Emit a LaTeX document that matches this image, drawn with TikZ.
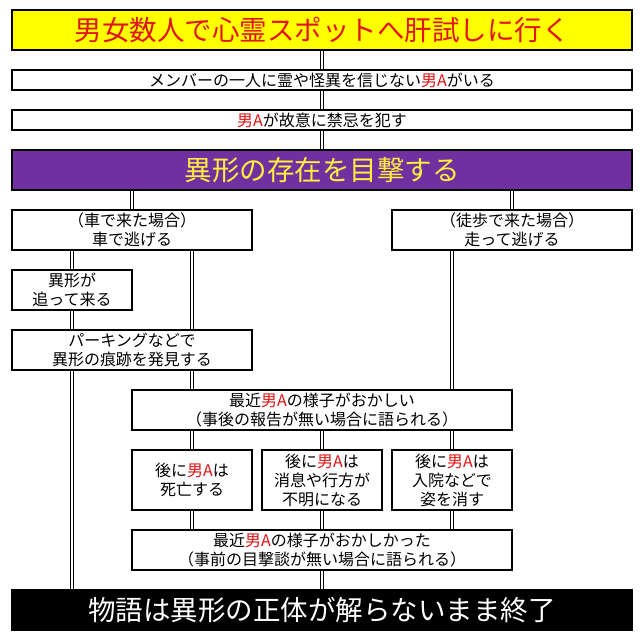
\documentclass[tikz,border=0pt]{standalone}
\usepackage{fontspec}
\usepackage{xcolor}
\usepackage{tikz}
\usetikzlibrary{positioning, calc, backgrounds}
\newfontfamily\jpfont{Noto Sans CJK JP}
\definecolor{namered}{RGB}{225, 20, 20}
\definecolor{startfill}{RGB}{255, 255, 0}
\definecolor{witnessfill}{RGB}{112, 48, 160}
\definecolor{witnesstext}{RGB}{255, 240, 60}
\newcommand{\otokoA}{\textcolor{namered}{男A}}
\tikzset{
  font=\jpfont\fontsize{16}{19}\selectfont,
  node distance=20pt and 10pt,
  baseblock/.style={
    rectangle, draw=black, line width=2pt, fill=white,
    outer sep=0pt, inner sep=0pt, align=center,
    minimum height=40pt
  },
  bigblock/.style={baseblock, minimum width=620pt, font=\jpfont\fontsize{27.5}{30}\selectfont},
  startblock/.style={bigblock, fill=startfill, text=namered},
  witnessblock/.style={bigblock, fill=witnessfill, text=witnesstext},
  endblock/.style={bigblock, fill=black, text=white},
  thinblock/.style={baseblock, minimum width=620pt, minimum height=20pt},
  wideblock/.style={baseblock, minimum width=240pt},
  centerblock/.style={baseblock, minimum width=380pt},
  smallblock/.style={baseblock, minimum width=120pt},
  fateblock/.style={baseblock, minimum width=120pt, minimum height=60pt},
  linkline/.style={draw=black, double=white, double distance=2pt, line width=0.9pt}
}
\begin{document}
\begin{tikzpicture}[x=1pt, y=1pt]
  \useasboundingbox (0,0) rectangle (640,-640);

  % Start
  \node[startblock] (start) at (322,-30) {男女数人で心霊スポットへ肝試しに行く};
  \node[thinblock, below=of start] (skeptic) {メンバーの一人に霊や怪異を信じない\otokoA がいる};
  \node[thinblock, below=of skeptic] (taboo) {\otokoA が故意に禁忌を犯す};

  % Encounter
  \node[witnessblock, below=of taboo] (witness) {異形の存在を目撃する};

  % Escape routes
  \node[wideblock, below=of witness.south west, anchor=north west] (bycar) {（車で来た場合）\\車で逃げる};
  \node[wideblock, below=of witness.south east, anchor=north east] (onfoot) {（徒歩で来た場合）\\走って逃げる};
  \node[smallblock, below=of bycar.south west, anchor=north west] (chase) {異形が\\追って来る};
  \node[wideblock, below=of chase.south west, anchor=north west] (traces) {パーキングなどで\\異形の痕跡を発見する};

  % Aftermath
  \node[centerblock, below=of traces.south, anchor=north west] (strange) {最近\otokoA の様子がおかしい\\（事後の報告が無い場合に語られる）};
  \node[fateblock, below=of strange.south west, anchor=north west] (dead) {後に\otokoA は\\死亡する};
  \node[fateblock, right=of dead] (missing) {後に\otokoA は\\消息や行方が\\不明になる};
  \node[fateblock, right=of missing] (hospital) {後に\otokoA は\\入院などで\\姿を消す};
  \node[centerblock, below=of dead.south west, anchor=north west] (before) {最近\otokoA の様子がおかしかった\\（事前の目撃談が無い場合に語られる）};

  % End
  \node[endblock, below=of before] (ending) {物語は異形の正体が解らないまま終了};

  % Connections
  \begin{scope}[on background layer]
    \draw[linkline] (start) -- (skeptic);
    \draw[linkline] (skeptic) -- (taboo);
    \draw[linkline] (taboo) -- (witness);

    \draw[linkline] (bycar.north) -- (bycar.north |- witness.south);
    \draw[linkline] (onfoot.north) -- (onfoot.north |- witness.south);

    \draw[linkline] (chase.north) -- (chase.north |- bycar.south);
    \draw[linkline] (chase.south) -- (chase.south |- traces.north);
    \draw[linkline] (dead.north |- bycar.south) -- (dead.north |- traces.north);
    \draw[linkline] (chase.south |- traces.south) -- (chase.south |- ending.north);
    \draw[linkline] (dead.north |- traces.south) -- (dead.north |- strange.north);

    \draw[linkline] (hospital.north |- onfoot.south) -- (hospital.north |- strange.north);
    \draw[linkline] ($(onfoot.south)!0.5!(onfoot.south east)$) -- ($(onfoot.south)!0.5!(onfoot.south east)$ |- ending.north);

    \draw[linkline] (dead.north |- strange.south) -- (dead.north);
    \draw[linkline] (missing.north |- strange.south) -- (missing.north);
    \draw[linkline] (hospital.north |- strange.south) -- (hospital.north);

    \draw[linkline] (dead.south) -- (dead.south |- before.north);
    \draw[linkline] (missing.south) -- (missing.south |- before.north);
    \draw[linkline] (hospital.south) -- (hospital.south |- before.north);

    \draw[linkline] (before) -- (ending);
  \end{scope}

\end{tikzpicture}
\end{document}
